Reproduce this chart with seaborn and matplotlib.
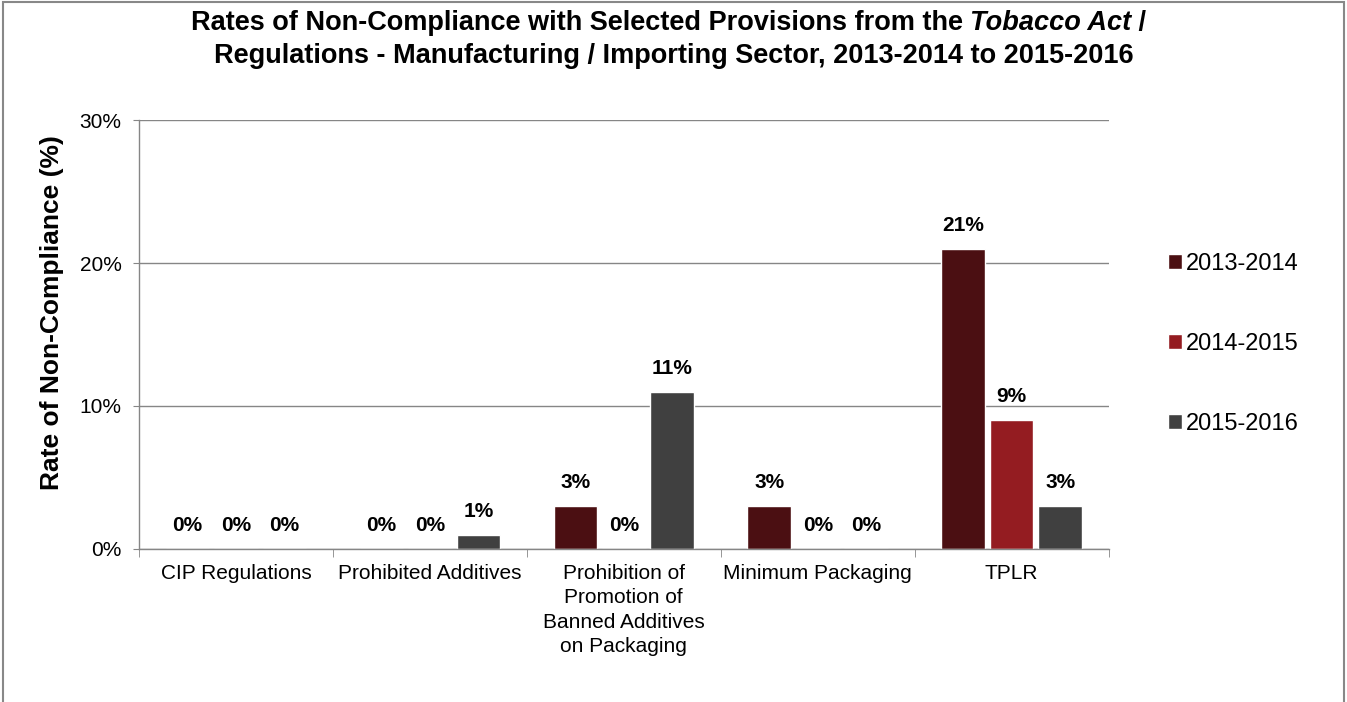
import pandas as pd
import seaborn as sns
import matplotlib.pyplot as plt
from matplotlib.patches import Rectangle
from matplotlib.ticker import FixedLocator, PercentFormatter

# Data
categories = ['CIP Regulations', 'Prohibited Additives',
              'Prohibition of\nPromotion of\nBanned Additives\non Packaging',
              'Minimum Packaging', 'TPLR']
years = ['2013-2014', '2014-2015', '2015-2016']
rate_2013_2014 = [0, 0, 3, 3, 21]
rate_2014_2015 = [0, 0, 0, 0, 9]
rate_2015_2016 = [0, 1, 11, 0, 3]
colors = ['#4B0F12', '#941C21', '#404040']

df = pd.DataFrame({
    'provision': categories * 3,
    'year': [y for y in years for _ in categories],
    'rate': rate_2013_2014 + rate_2014_2015 + rate_2015_2016,
})

sns.set_style('white')
plt.rcParams['font.family'] = ['Liberation Sans', 'DejaVu Sans']
plt.rcParams['text.color'] = 'black'
plt.rcParams['axes.labelcolor'] = 'black'
plt.rcParams['xtick.color'] = 'black'
plt.rcParams['ytick.color'] = 'black'

fig = plt.figure(figsize=(13.47, 7.02), dpi=100)
ax = fig.add_axes([0.1032, 0.218, 0.7198, 0.611])

sns.barplot(data=df, x='provision', y='rate', hue='year', palette=colors,
            width=0.75, gap=0.1, saturation=1, ax=ax)

for cont in ax.containers:
    ax.bar_label(cont, fmt='%d%%', padding=10, fontsize=15, fontweight='bold')

ax.set_ylim(0, 30)
ax.set_xlim(-0.5, 4.5)
ax.yaxis.set_major_locator(FixedLocator([0, 10, 20, 30]))
ax.yaxis.set_major_formatter(PercentFormatter(decimals=0))
ax.grid(axis='y', color='#868686', linewidth=1)
ax.set_axisbelow(True)
for side in ['top', 'right']:
    ax.spines[side].set_visible(False)
for side in ['left', 'bottom']:
    ax.spines[side].set_color('#868686')
    ax.spines[side].set_linewidth(1)

ax.tick_params(axis='y', left=True, length=4.5, color='#868686', labelsize=15, pad=8)
ax.tick_params(axis='x', which='major', length=0, labelsize=15, pad=11)
ax.xaxis.set_minor_locator(FixedLocator([-0.5, 0.5, 1.5, 2.5, 3.5, 4.5]))
ax.tick_params(axis='x', which='minor', bottom=True, length=6, color='#868686')
for lab in ax.get_xticklabels():
    lab.set_linespacing(1.35)

ax.set_xlabel('')
ax.set_ylabel('Rate of Non-Compliance (%)', fontsize=19, fontweight='bold')
ax.yaxis.set_label_coords(-0.077, 0.552)

leg = ax.legend(loc='center left', bbox_to_anchor=(1.052, 0.478), frameon=False,
                fontsize=17, handlelength=0.58, handleheight=0.58,
                handletextpad=0.15, labelspacing=2.45, borderaxespad=0)

# Title with italic "Tobacco Act"
fig.canvas.draw()
renderer = fig.canvas.get_renderer()
title_size = 19.5
parts = [('Rates of Non-Compliance with Selected Provisions from the ', 'normal'),
         ('Tobacco Act', 'italic'),
         (' /', 'normal')]
texts = []
for s, style in parts:
    t = fig.text(0, 1 - 30 / 702, s, fontsize=title_size, fontweight='bold', style=style,
                 ha='left', va='baseline')
    texts.append(t)
widths = [t.get_window_extent(renderer).width for t in texts]
total = sum(widths)
x0 = fig.bbox.width * 0.5 - total / 2 - 5
for t, w in zip(texts, widths):
    t.set_x(x0 / fig.bbox.width)
    x0 += w
fig.text(0.5, 1 - 63 / 702, 'Regulations - Manufacturing / Importing Sector, 2013-2014 to 2015-2016',
         fontsize=title_size, fontweight='bold', ha='center', va='baseline')

# grey border around the chart area (bottom edge falls outside the image)
fig.patches.append(Rectangle((3 / 1347, -0.02), 1341 / 1347, 1.02 - 2 / 702,
                             transform=fig.transFigure, fill=False,
                             edgecolor='#888888', linewidth=1.5))

plt.savefig('out.png', dpi=100)
plt.close()
